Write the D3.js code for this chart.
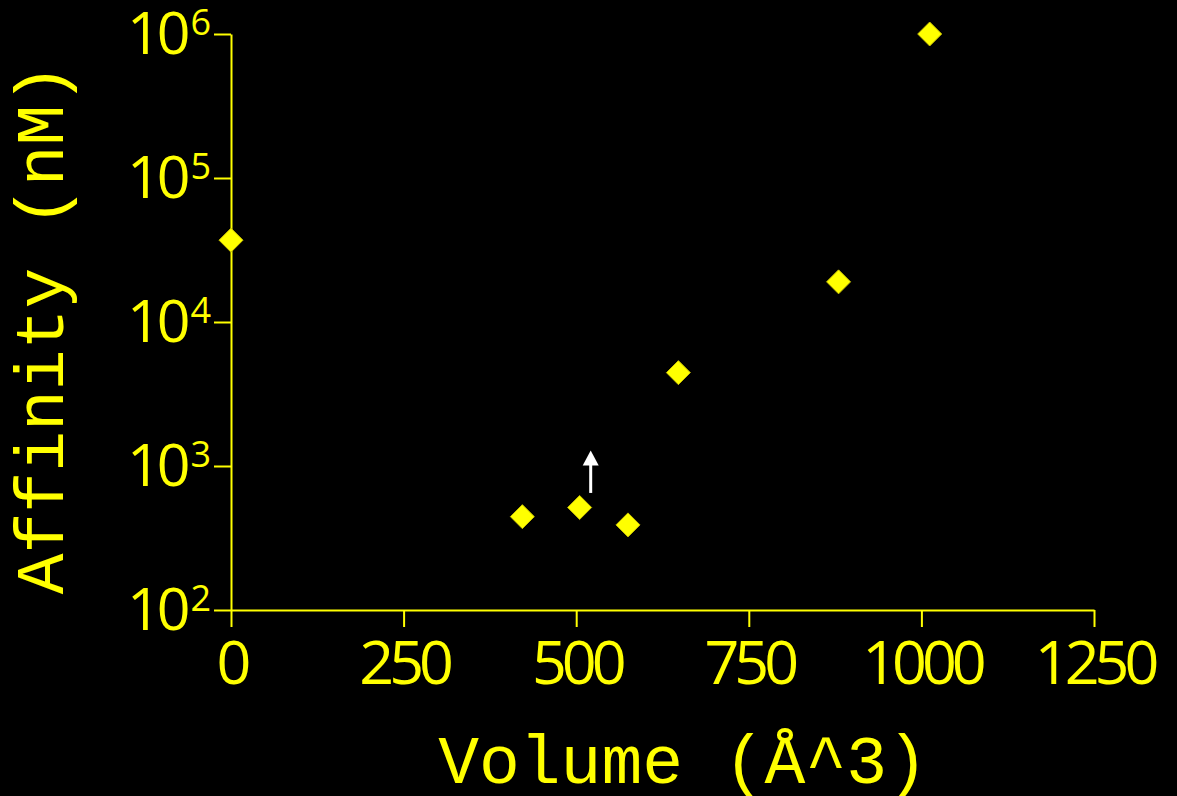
<!DOCTYPE html>
<html lang="en">
<head>
    <meta charset="UTF-8">
    <title>Affinity vs Volume</title>
    <script src="https://d3js.org/d3.v7.min.js"></script>
    <style>
        body { margin: 0; background: #000; }
    </style>
</head>
<body>
    <script>
        // data
        var volumes = [0, 422, 505, 575, 648, 880, 1012];
        var affinities = [37000, 445, 515, 390, 4450, 19000, 1000000];
        // arrow marking a lower bound (volume, from, to)
        var arrowVolume = 521;
        var arrowFrom = 650;
        var arrowTo = 1280;

        var xTicks = [0, 250, 500, 750, 1000, 1250];
        var yExponents = [2, 3, 4, 5, 6];

        var w = 1177;
        var h = 796;
        var yellow = "#ffff00";
        var plotLeft = 231, plotRight = 1094, plotTop = 34, plotBottom = 610;

        var svg = d3.select("body")
                    .append("svg")
                    .attr("width", w)
                    .attr("height", h)
                    .style("background", "#000");

        var x = d3.scaleLinear()
                  .domain([0, 1250])
                  .range([plotLeft, plotRight]);

        var y = d3.scaleLog()
                  .domain([100, 1000000])
                  .range([plotBottom, plotTop]);

        // x axis
        var xAxis = svg.append("g")
                       .attr("transform", "translate(0," + plotBottom + ")")
                       .call(d3.axisBottom(x).tickValues(xTicks).tickSize(17).tickSizeOuter(0).tickFormat(d3.format("d")));
        xAxis.select(".domain").attr("stroke", yellow).attr("stroke-width", 2);
        xAxis.selectAll(".tick line").attr("stroke", yellow).attr("stroke-width", 2);
        xAxis.selectAll(".tick text")
             .attr("fill", yellow)
             .attr("y", 74)
             .attr("dy", 0)
             .style("font-family", "'Open Sans', sans-serif")
             .style("font-size", "61px")
             .style("letter-spacing", "-5px");

        // y axis
        var yAxis = svg.append("g")
                       .attr("transform", "translate(" + plotLeft + ",0)")
                       .call(d3.axisLeft(y)
                               .tickValues(yExponents.map(e => Math.pow(10, e)))
                               .tickSize(17)
                               .tickSizeOuter(0)
                               .tickFormat(""));
        yAxis.select(".domain").attr("stroke", yellow).attr("stroke-width", 2);
        yAxis.selectAll(".tick line").attr("stroke", yellow).attr("stroke-width", 2);
        yAxis.selectAll(".tick text").remove();
        yAxis.selectAll(".tick")
             .data(yExponents)
             .append("text")
             .attr("fill", yellow)
             .attr("text-anchor", "end")
             .attr("x", -20)
             .attr("y", 19)
             .style("font-family", "'Open Sans', sans-serif")
             .style("letter-spacing", "-4px")
             .style("font-size", "59px")
             .each(function(d) {
                 var t = d3.select(this);
                 t.append("tspan").text("10");
                 t.append("tspan")
                  .attr("dy", -19)
                  .attr("dx", 4)
                  .style("font-size", "36px")
                  .style("letter-spacing", "0px")
                  .text(d);
             });

        // lower-bound arrow
        var ax = x(arrowVolume);
        svg.append("line")
           .attr("x1", ax).attr("x2", ax)
           .attr("y1", y(arrowFrom)).attr("y2", y(arrowTo) + 14)
           .attr("stroke", "#fff")
           .attr("stroke-width", 3);
        svg.append("path")
           .attr("d", "M" + (ax - 8) + "," + (y(arrowTo) + 15) + "L" + (ax + 8) + "," + (y(arrowTo) + 15) + "L" + ax + "," + y(arrowTo) + "Z")
           .attr("fill", "#fff");

        // diamond markers
        var pts = volumes.map((v, i) => ({v: v, a: affinities[i]}));
        var r = 12;
        svg.selectAll(".pt")
           .data(pts)
           .join("path")
           .attr("class", "pt")
           .attr("d", d => "M" + x(d.v) + "," + (y(d.a) - r) +
                           "L" + (x(d.v) + r) + "," + y(d.a) +
                           "L" + x(d.v) + "," + (y(d.a) + r) +
                           "L" + (x(d.v) - r) + "," + y(d.a) + "Z")
           .attr("fill", yellow)
           .attr("stroke", "#c8c000")
           .attr("stroke-width", 1);

        // axis titles
        svg.append("text")
           .attr("x", 683)
           .attr("y", 783)
           .attr("text-anchor", "middle")
           .attr("fill", yellow)
           .style("font-family", "'Liberation Mono', 'Courier New', monospace")
           .style("font-size", "68px")
           .text("Volume (Å^3)");

        svg.append("text")
           .attr("transform", "translate(63,329) rotate(-90)")
           .attr("text-anchor", "middle")
           .attr("fill", yellow)
           .style("font-family", "'Liberation Mono', 'Courier New', monospace")
           .style("font-size", "68px")
           .text("Affinity (nM)");
    </script>
</body>
</html>
